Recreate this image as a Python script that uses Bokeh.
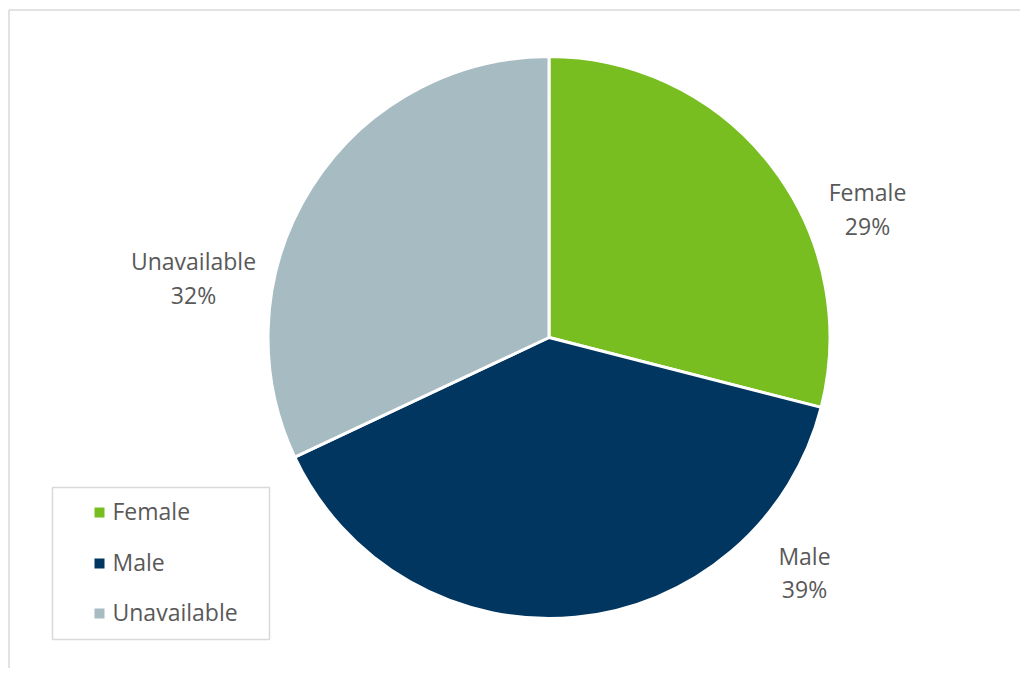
import math
from bokeh.plotting import figure
from bokeh.models import Range1d
from bokeh.core.properties import value
from bokeh.embed import file_html
from bokeh.resources import INLINE

# ---- data ----
categories = ["Female", "Male", "Unavailable"]
shares = [29, 39, 32]
pct_labels = ["29%", "39%", "32%"]
colors = ["#78BE20", "#003660", "#A7BBC3"]

# ---- layout (pixel-like data space) ----
W, H = 1020, 668
cx, cy, R = 548.5, 331, 281
label_pos = {"Female": (867, 477, 443), "Male": (804, 113, 80), "Unavailable": (193, 408, 374)}
FONT = value("Open Sans")
TXT = "#595959"
FS = "23px"

p = figure(width=W, height=H, output_backend="svg", toolbar_location=None,
           x_range=Range1d(0, W), y_range=Range1d(0, H), min_border=0)
p.axis.visible = False
p.grid.visible = False
p.outline_line_color = None
p.background_fill_color = "white"

# chart border (top and left visible)
p.line(x=[8.5, 8.5], y=[0, H - 9.5], line_color="#D9D9D9", line_width=1.5)
p.line(x=[8.5, W], y=[H - 9.5, H - 9.5], line_color="#D9D9D9", line_width=1.5)

# pie wedges
total = float(sum(shares))
starts, ends = [], []
cum = 0.0
for s in shares:
    starts.append(math.pi / 2 - 2 * math.pi * cum / total)
    cum += s
    ends.append(math.pi / 2 - 2 * math.pi * cum / total)
p.wedge(x=[cx] * 3, y=[cy] * 3, radius=R, start_angle=starts, end_angle=ends,
        direction="clock", fill_color=colors, line_color="white", line_width=3)

# data labels
for cat, pct in zip(categories, pct_labels):
    lx, ly1, ly2 = label_pos[cat]
    p.text(x=[lx], y=[ly1], text=[cat], text_font=FONT, text_font_size=FS,
           text_color=TXT, text_align="center", text_baseline="middle")
    p.text(x=[lx], y=[ly2], text=[pct], text_font=FONT, text_font_size=FS,
           text_color=TXT, text_align="center", text_baseline="middle")

# legend box
p.quad(left=[52], right=[269], bottom=[29], top=[181], fill_color="white",
       line_color="#D9D9D9", line_width=1.5)
leg_y = [156, 105, 55]
p.scatter(x=[99] * 3, y=leg_y, marker="square", size=10, fill_color=colors, line_color=None)
p.text(x=[112] * 3, y=[v + 2 for v in leg_y], text=categories, text_font=FONT, text_font_size=FS,
       text_color=TXT, text_align="left", text_baseline="middle")

open("out.html", "w").write(file_html(p, INLINE))
